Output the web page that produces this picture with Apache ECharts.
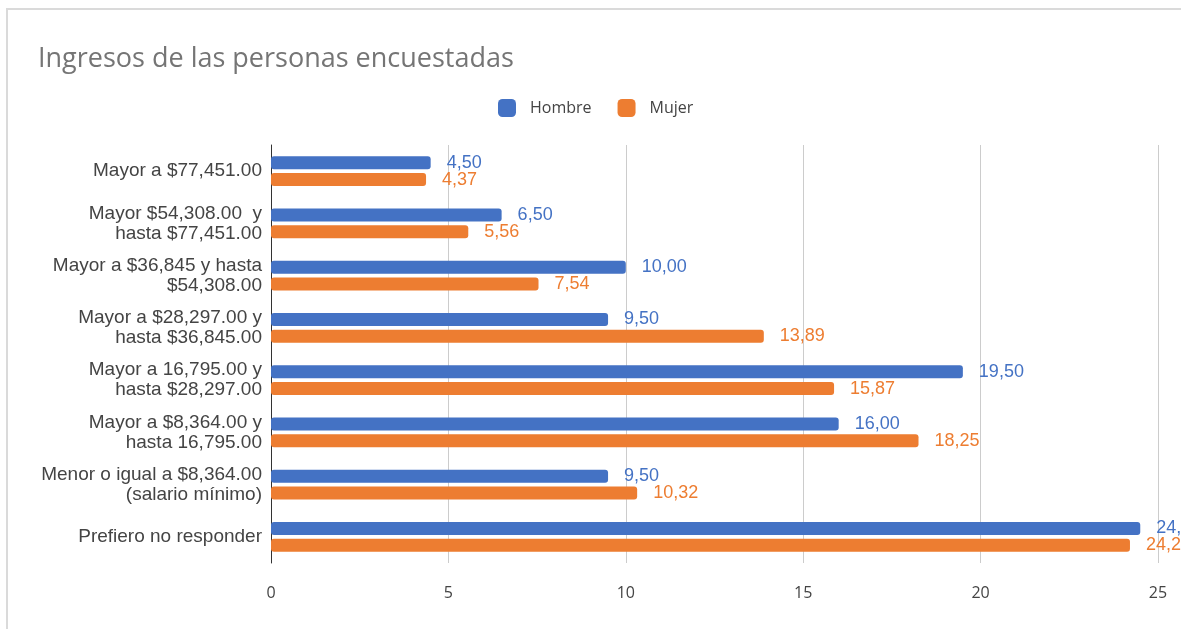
<!DOCTYPE html>
<html>
<head>
<meta charset="utf-8">
<script src="https://cdn.jsdelivr.net/npm/echarts@6/dist/echarts.min.js"></script>
<style>
html,body{margin:0;padding:0;background:#fff;width:1181px;height:629px;overflow:hidden;}
#frame{position:absolute;left:6px;top:8px;width:1400px;height:700px;border-top:2px solid #dadada;border-left:2px solid #dadada;}
#chart{position:absolute;left:0;top:0;width:1181px;height:629px;}
</style>
</head>
<body>
<div id="frame"></div>
<div id="chart"></div>
<script>
const categories = [
  "Mayor a $77,451.00",
  "Mayor $54,308.00  y\nhasta $77,451.00",
  "Mayor a $36,845 y hasta\n$54,308.00",
  "Mayor a $28,297.00 y\nhasta $36,845.00",
  "Mayor a 16,795.00 y\nhasta $28,297.00",
  "Mayor a $8,364.00 y\nhasta 16,795.00",
  "Menor o igual a $8,364.00\n(salario mínimo)",
  "Prefiero no responder"
];
const hombre = [4.50, 6.50, 10.00, 9.50, 19.50, 16.00, 9.50, 24.50];
const mujer = [4.37, 5.56, 7.54, 13.89, 15.87, 18.25, 10.32, 24.21];
const seriesNames = ["Hombre", "Mujer"];
const xTicks = { min: 0, max: 25, interval: 5 };

const fmt = p => p.value.toFixed(2).replace('.', ',');
const chart = echarts.init(document.getElementById('chart'), null, {renderer: 'canvas'});
function labelCfg(color) {
  return { show: true, position: 'right', distance: 16, formatter: fmt, color: color,
    fontSize: 18, fontFamily: 'Liberation Sans, Arial, sans-serif' };
}
chart.setOption({
  animation: false,
  title: {
    text: 'Ingresos de las personas encuestadas',
    left: 33, top: 41,
    textStyle: { fontFamily: 'Open Sans, sans-serif', fontSize: 27, fontWeight: 'normal', color: '#757575' }
  },
  legend: {
    left: 493, top: 94,
    itemWidth: 18, itemHeight: 18, itemGap: 26,
    icon: 'roundRect',
    textStyle: { fontFamily: 'Open Sans, sans-serif', fontSize: 16, color: '#444', padding: [0,0,0,9] },
    data: seriesNames
  },
  grid: { left: 271, right: 23, top: 145, height: 418, containLabel: false },
  xAxis: {
    type: 'value', min: xTicks.min, max: xTicks.max, interval: xTicks.interval,
    axisLine: { show: false }, axisTick: { show: false },
    splitLine: { lineStyle: { color: '#cccccc', width: 1 } },
    axisLabel: { color: '#444', fontSize: 16, fontFamily: 'Open Sans, sans-serif', margin: 22 }
  },
  yAxis: {
    type: 'category', data: categories, inverse: true,
    axisLine: { show: true, lineStyle: { color: '#333', width: 1 } },
    axisTick: { show: false },
    axisLabel: { color: '#444', fontSize: 19, lineHeight: 20, fontFamily: 'Liberation Sans, Arial, sans-serif', margin: 9, align: 'right' }
  },
  series: [
    { name: seriesNames[0], type: 'bar', data: hombre, barWidth: 13, barGap: '30%',
      itemStyle: { color: '#4472C4', borderRadius: 3 }, label: labelCfg('#4472C4') },
    { name: seriesNames[1], type: 'bar', data: mujer, barWidth: 13, barGap: '30%',
      itemStyle: { color: '#ED7D31', borderRadius: 3 }, label: labelCfg('#ED7D31') }
  ]
});
</script>
</body>
</html>
